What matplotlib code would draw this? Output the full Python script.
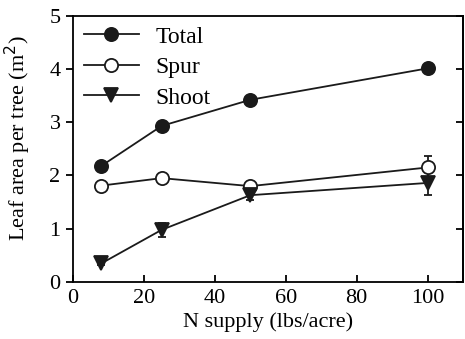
import matplotlib
matplotlib.use('Agg')
import matplotlib.pyplot as plt
from matplotlib.lines import Line2D

# N supply levels (lbs/acre) and leaf area per tree (m^2)
n_supply = [8, 25, 50, 100]
total = [2.18, 2.93, 3.42, 4.01]
total_err = [0.03, 0.03, 0.03, 0.03]
spur = [1.81, 1.95, 1.80, 2.15]
spur_err = [0.03, 0.04, 0.06, 0.21]
shoot = [0.35, 0.98, 1.63, 1.86]
shoot_err = [0.03, 0.13, 0.09, 0.22]

plt.rcParams['font.family'] = ['Liberation Serif', 'DejaVu Serif']

fig = plt.figure(figsize=(4.65, 3.39), dpi=100)
ax = fig.add_axes([0.157, 0.168, 0.839, 0.786])

ink = '#1a1a1a'
common = dict(color=ink, lw=1.3, capsize=3, elinewidth=1.3,
              capthick=1.3, mew=1.3)
ax.errorbar(n_supply, total, yerr=total_err, marker='o', ms=9.5, mfc=ink, **common)
ax.errorbar(n_supply, spur, yerr=spur_err, marker='o', ms=9.5, mfc='white', **common)
ax.errorbar(n_supply, shoot, yerr=shoot_err, marker='v', ms=9.5, mfc=ink, **common)

ax.set_xlim(0, 110)
ax.set_ylim(0, 5)
ax.set_xticks([0, 20, 40, 60, 80, 100])
ax.set_yticks([0, 1, 2, 3, 4, 5])
ax.tick_params(axis='x', direction='in', length=5, width=1.3, labelsize=16, pad=5)
ax.tick_params(axis='y', direction='out', length=5, width=1.3, labelsize=16, pad=4)
for s in ax.spines.values():
    s.set_linewidth(1.3)

# inward ticks on the right edge, no labels
right = ax.secondary_yaxis('right')
right.set_yticks([0, 1, 2, 3, 4, 5])
right.tick_params(direction='in', length=5, width=1.3, labelright=False)
right.spines['right'].set_linewidth(1.3)

ax.set_xlabel('N supply (lbs/acre)', fontsize=16, labelpad=3)
ax.set_ylabel('Leaf area per tree (m$^2$)', fontsize=16)
ax.yaxis.set_label_coords(-0.102, 0.54)

handles = [
    Line2D([], [], color=ink, lw=1.3, marker='o', ms=9.5, mfc=ink, mew=1.3),
    Line2D([], [], color=ink, lw=1.3, marker='o', ms=9.5, mfc='white', mew=1.3),
    Line2D([], [], color=ink, lw=1.3, marker='v', ms=9.5, mfc=ink, mew=1.3),
]
ax.legend(handles, ['Total', 'Spur', 'Shoot'], loc='upper left', frameon=False,
          fontsize=17, handlelength=2.35, borderaxespad=0.15, borderpad=0.3,
          labelspacing=0.38, handletextpad=0.7)

fig.savefig('out.png', dpi=100)
